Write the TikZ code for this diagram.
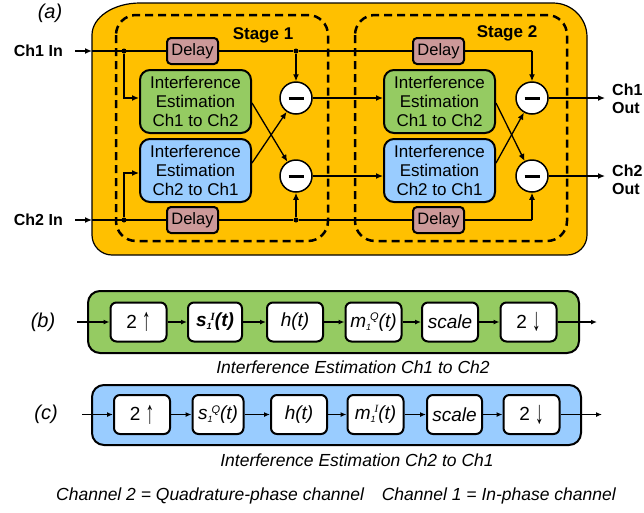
\documentclass[tikz,border=0pt]{standalone}
\usepackage{fontspec}
\setmainfont{Liberation Sans}
\newfontfamily\serfont{Liberation Serif}
\usetikzlibrary{arrows.meta}
\definecolor{orng}{HTML}{FFC000}
\definecolor{grn}{HTML}{95CB62}
\definecolor{blu}{HTML}{99CCFF}
\definecolor{dly}{HTML}{CC9999}
\newcommand\supsub[2]{\raisebox{-0.3ex}{\fontsize{9}{9}\selectfont #2}\kern-1pt\raisebox{0.65ex}{\fontsize{11}{11}\selectfont #1}}
\newcommand\uparr{\raisebox{-2.5pt}{\scalebox{0.9}[1.7]{↑}}}
\newcommand\dnarr{\raisebox{-2.5pt}{\scalebox{0.9}[1.7]{↓}}}
\begin{document}
\begin{tikzpicture}[x=1pt,y=-1pt,
 wire/.style={line width=1.3pt},
 arr/.style={wire,-{Latex[length=7pt,width=6pt]}},
 sarr/.style={line width=1.2pt,-{Latex[length=6pt,width=5pt]}},
 est/.style={draw,line width=2pt,rounded corners=10pt,minimum width=111pt,minimum height=63pt,inner sep=0pt,align=center,font=\fontsize{17}{19}\selectfont},
 dlybox/.style={draw,fill=dly,line width=2pt,rounded corners=4pt,minimum width=51pt,minimum height=26pt,inner sep=0pt,font=\fontsize{16.5}{18}\selectfont},
 msub/.style={circle,draw,fill=white,line width=1.5pt,minimum size=32pt,inner sep=0pt},
 sbox/.style={draw,fill=white,line width=2pt,rounded corners=6pt,minimum width=56pt,minimum height=39pt,inner sep=0pt,font=\fontsize{19}{21}\selectfont},
 stagebox/.style={draw,line width=2.5pt,dash pattern=on 8pt off 5pt,rounded corners=20pt},
 panelbox/.style={draw,line width=2pt,rounded corners=12pt},
 io/.style={font=\fontsize{16}{19}\selectfont\bfseries},
 stg/.style={font=\fontsize{17}{19}\selectfont\bfseries},
 plabel/.style={font=\fontsize{20}{24}\selectfont\itshape},
 captxt/.style={font=\fontsize{17.5}{20}\selectfont\itshape},
 dot/.style={circle,fill,inner sep=0pt,minimum size=5pt}
]
\useasboundingbox (0,0) rectangle (644,512);

% ---------- panel (a) ----------
\node[plabel] (la) at (50,13) {(a)};
\draw[fill=orng,line width=1.2pt] (92,35) .. controls (92,17.3) and (113.5,3) .. (140,3)
  -- (553,3) .. controls (571.8,3) and (587,18.2) .. (587,37)
  -- (587,235) .. controls (587,246) and (578,255) .. (567,255)
  -- (112,255) .. controls (101,255) and (92,246) .. (92,235) -- cycle;
\draw[stagebox] (116,15) rectangle (328,241);
\draw[stagebox] (355,15) rectangle (567,241);
\node[stg] (st1) at (263,35) {Stage 1};
\node[stg] (st2) at (507,33) {Stage 2};

\node[io,anchor=east,inner xsep=12pt] (ch1in) at (75,51) {Ch1 In};
\node[io,anchor=east,inner xsep=12pt] (ch2in) at (75,220) {Ch2 In};
\coordinate (i1) at (92,51);
\coordinate (i2) at (92,220);
\node[dot] (s1a) at (124,51) {};
\node[dot] (s2a) at (124,220) {};
\node[dot] (t1) at (296,51) {};
\node[dot] (b1) at (296,220) {};
\coordinate (c2a) at (532,51);
\coordinate (c2b) at (532,220);

\node[est,fill=grn] (G1) at (195.5,101.5) {Interference\\Estimation\\Ch1 to Ch2};
\node[est,fill=blu] (B1) at (195.5,170.5) {Interference\\Estimation\\Ch2 to Ch1};
\node[est,fill=grn] (G2) at (439.5,101.5) {Interference\\Estimation\\Ch1 to Ch2};
\node[est,fill=blu] (B2) at (439.5,170.5) {Interference\\Estimation\\Ch2 to Ch1};
\node[dlybox] (D1a) at (192.5,51) {Delay};
\node[dlybox] (D1b) at (192.5,220) {Delay};
\node[dlybox] (D2a) at (438.5,51) {Delay};
\node[dlybox] (D2b) at (438.5,220) {Delay};
\node[msub] (M1a) at (296,98) {};
\node[msub] (M1b) at (296,176) {};
\node[msub] (M2a) at (532,98) {};
\node[msub] (M2b) at (532,176) {};
\foreach \m in {M1a,M1b,M2a,M2b}
  \draw[line width=3pt] ([xshift=-7.5pt]\m.center) -- ([xshift=7.5pt]\m.center);

\coordinate (o1) at (605,98);
\coordinate (o2) at (605,176);
\node[io,anchor=west,align=left,inner sep=0pt,font=\fontsize{16}{18.5}\selectfont\bfseries] (ch1out) at (612,99) {Ch1\\Out};
\node[io,anchor=west,align=left,inner sep=0pt,font=\fontsize{16}{18.5}\selectfont\bfseries] (ch2out) at (612,180) {Ch2\\Out};

% channel 1 wire
\draw[arr] (ch1in) -- (i1);
\draw[wire] (i1) -- (D1a);
\draw[wire] (D1a) -- (t1) -- (D2a);
\draw[wire] (D2a) -- (c2a);
\draw[arr] (c2a) -- (M2a);
\draw[arr] (t1) -- (M1a);
\draw[arr] (s1a) |- (G1.west |- M1a);
% channel 2 wire
\draw[arr] (ch2in) -- (i2);
\draw[wire] (i2) -- (D1b);
\draw[wire] (D1b) -- (b1) -- (D2b);
\draw[wire] (D2b) -- (c2b);
\draw[arr] (c2b) -- (M2b);
\draw[arr] (b1) -- (M1b);
\draw[arr] (s2a) |- ([yshift=-2.5pt]B1.west);
% crossings
\draw[arr] ([yshift=-1.5pt]G1.east) -- (M1b);
\draw[arr] ([yshift=7.5pt]B1.east) -- (M1a);
\draw[arr] ([yshift=-1.5pt]G2.east) -- (M2b);
\draw[arr] ([yshift=7.5pt]B2.east) -- (M2a);
% stage 1 -> stage 2
\draw[arr] (M1a) -- (G2.west |- M1a);
\draw[arr] (M1b) -- (B2.west |- M1b);
% outputs
\draw[arr] (M2a) -- (o1);
\draw[arr] (M2b) -- (o2);

% ---------- panel (b) ----------
\node[plabel] (lb) at (43,322) {(b)};
\draw[panelbox,fill=grn] (88,291) rectangle (579,353);
\coordinate (bin) at (77,322);
\coordinate (bout) at (597,322);
\node[sbox] (p1) at (138.5,322) {2 \uparr};
\node[sbox,minimum width=54pt] (p2) at (215,322) {\textbf{\textit{s\supsub{{\serfont I}}{1}(t)}}};
\node[sbox] (p3) at (295,322) {\textit{h(t)}};
\node[sbox] (p4) at (373.5,322) {\textit{m\supsub{Q}{1}(t)}};
\node[sbox] (p5) at (450,322) {\textit{scale}};
\node[sbox] (p6) at (528.5,322) {2 \dnarr};
\draw[sarr] (bin) -- (p1);
\draw[sarr] (p1) -- (p2);
\draw[sarr] (p2) -- (p3);
\draw[sarr] (p3) -- (p4);
\draw[sarr] (p4) -- (p5);
\draw[sarr] (p5) -- (p6);
\draw[sarr] (p6) -- (bout);
\node[captxt] (capb) at (353,367) {Interference Estimation Ch1 to Ch2};

% ---------- panel (c) ----------
\node[plabel] (lc) at (46,414) {(c)};
\draw[panelbox,fill=blu] (92,385) rectangle (581,445);
\coordinate (cin) at (82,414.5);
\coordinate (cout) at (602,414.5);
\node[sbox] (q1) at (142,414.5) {2 \uparr};
\node[sbox,minimum width=51pt] (q2) at (218,414.5) {\textit{s\supsub{Q}{1}(t)}};
\node[sbox] (q3) at (299,414.5) {\textit{h(t)}};
\node[sbox] (q4) at (375.5,414.5) {\textit{m\supsub{{\serfont I}}{1}(t)}};
\node[sbox,minimum width=55pt] (q5) at (454.5,414.5) {\textit{scale}};
\node[sbox] (q6) at (531.5,414.5) {2 \dnarr};
\draw[sarr] (cin) -- (q1);
\draw[sarr] (q1) -- (q2);
\draw[sarr] (q2) -- (q3);
\draw[sarr] (q3) -- (q4);
\draw[sarr] (q4) -- (q5);
\draw[sarr] (q5) -- (q6);
\draw[sarr] (q6) -- (cout);
\node[captxt] (capc) at (357,460) {Interference Estimation Ch2 to Ch1};

% ---------- footer ----------
\node[captxt,anchor=west,inner sep=0pt] (f1) at (56,496) {Channel 2 = Quadrature-phase channel};
\node[captxt,anchor=east,inner sep=0pt] (f2) at (616,496) {Channel 1 = In-phase channel};
\end{tikzpicture}
\end{document}
